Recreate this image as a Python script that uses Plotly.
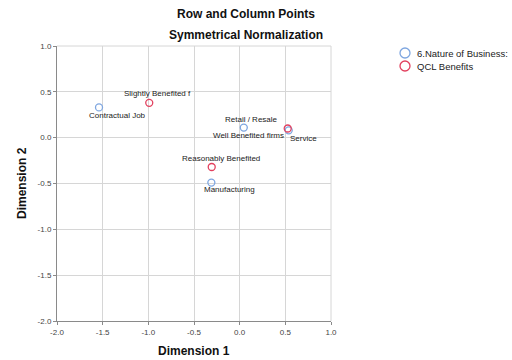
import plotly.graph_objects as go

# Row points (6.Nature of Business) and column points (QCL Benefits)
row_labels = ["Contractual Job", "Retail / Resale", "Service", "Manufacturing"]
row_dim1 = [-1.54, 0.045, 0.537, -0.31]
row_dim2 = [0.33, 0.11, 0.08, -0.49]

col_labels = ["Slightly Benefited f", "Well Benefited firms", "Reasonably Benefited"]
col_dim1 = [-0.99, 0.526, -0.306]
col_dim2 = [0.38, 0.10, -0.32]

tick_vals = [-2.0, -1.5, -1.0, -0.5, 0.0, 0.5, 1.0]
tick_text = ["-2.0", "-1.5", "-1.0", "-0.5", "0.0", "0.5", "1.0"]

legend_names = ["6.Nature of Business:", "QCL Benefits"]

# label offsets in pixels (dx, dy) relative to each point
label_shift = {
    "Contractual Job": (18, -8),
    "Retail / Resale": (8, 8),
    "Service": (15, -8),
    "Manufacturing": (18, -7),
    "Slightly Benefited f": (8, 9),
    "Well Benefited firms": (-39, -7),
    "Reasonably Benefited": (9, 9),
}

BLUE = "#7ea6e0"
RED = "#e2405e"
FONT = "Arial, Liberation Sans, sans-serif"

W, H = 512, 360
L, R, T, B = 57, 181, 46, 39
PW, PH = W - L - R, H - T - B


def px_x(p):
    return (p - L) / PW


def px_y(p):
    return (H - B - p) / PH


fig = go.Figure()
fig.add_trace(go.Scatter(
    x=row_dim1, y=row_dim2, mode="markers", name=legend_names[0],
    marker=dict(symbol="circle-open", size=7, color=BLUE, line=dict(width=1.3)),
))
fig.add_trace(go.Scatter(
    x=col_dim1, y=col_dim2, mode="markers", name=legend_names[1],
    marker=dict(symbol="circle-open", size=7, color=RED, line=dict(width=1.3)),
))

annotations = []
for labels, xs, ys in [(row_labels, row_dim1, row_dim2), (col_labels, col_dim1, col_dim2)]:
    for lab, xv, yv in zip(labels, xs, ys):
        dx, dy = label_shift[lab]
        annotations.append(dict(
            x=xv, y=yv, xref="x", yref="y", text=lab, showarrow=False,
            xshift=dx, yshift=dy, font=dict(family=FONT, size=8, color="#222"),
        ))

title_font = dict(family=FONT, size=12, color="#111")
annotations += [
    dict(text="<b>Row and Column Points</b>", xref="paper", yref="paper",
         x=px_x(246), y=px_y(14), xanchor="center", yanchor="middle",
         showarrow=False, font=title_font),
    dict(text="<b>Symmetrical Normalization</b>", xref="paper", yref="paper",
         x=px_x(246), y=px_y(35), xanchor="center", yanchor="middle",
         showarrow=False, font=title_font),
    dict(text="<b>Dimension 1</b>", xref="paper", yref="paper",
         x=px_x(194), y=px_y(351), xanchor="center", yanchor="middle",
         showarrow=False, font=dict(family=FONT, size=12, color="#111")),
    dict(text="<b>Dimension 2</b>", xref="paper", yref="paper",
         x=px_x(22), y=px_y(183), xanchor="center", yanchor="middle",
         textangle=-90, showarrow=False, font=dict(family=FONT, size=12, color="#111")),
]

# plot frame (top and right) plus the legend: open circles with names
shapes = [
    dict(type="line", xref="paper", yref="paper", x0=0, x1=1, y0=1, y1=1,
         line=dict(color="#d6d6d6", width=1)),
    dict(type="line", xref="paper", yref="paper", x0=1, x1=1, y0=0, y1=1,
         line=dict(color="#d6d6d6", width=1)),
]
for i, (name, col) in enumerate(zip(legend_names, [BLUE, RED])):
    cy = 53 + i * 13
    cx = 405
    shapes.append(dict(type="circle", xref="paper", yref="paper",
                       x0=px_x(cx - 5), x1=px_x(cx + 5), y0=px_y(cy + 5), y1=px_y(cy - 5),
                       line=dict(color=col, width=1.3)))
    annotations.append(dict(text=name, xref="paper", yref="paper",
                            x=px_x(cx + 10), y=px_y(cy), xanchor="left", yanchor="middle",
                            showarrow=False, font=dict(family=FONT, size=9.5, color="#222")))

axis_common = dict(
    tickvals=tick_vals, ticktext=tick_text, showgrid=True, gridcolor="#d6d6d6",
    gridwidth=1, zeroline=False, showline=True, linecolor="#8a8a8a", linewidth=1,
    mirror=False, ticks="outside", ticklen=3, tickcolor="#8a8a8a",
    tickfont=dict(family=FONT, size=8, color="#444"), automargin=False,
    range=[-2.0, 1.0],
)

fig.update_layout(
    width=W, height=H,
    margin=dict(l=L, r=R, t=T, b=B),
    paper_bgcolor="white", plot_bgcolor="white",
    showlegend=False,
    xaxis=axis_common,
    yaxis=axis_common,
    annotations=annotations,
    shapes=shapes,
)

fig.write_html("out.html")
